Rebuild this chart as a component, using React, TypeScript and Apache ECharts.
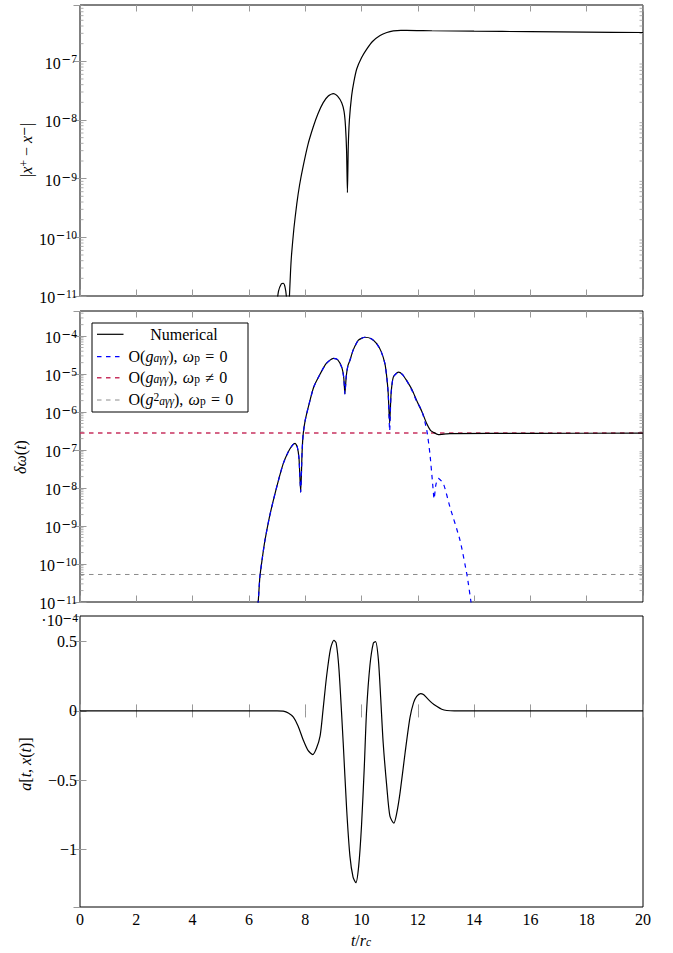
import React, { useEffect, useRef } from 'react';
import * as echarts from 'echarts';

const FONT = 'Liberation Serif, DejaVu Serif, serif';
const MINUS_FONT = 'DejaVu Serif, Liberation Serif, serif';
const FS = 16;
const FS_SMALL = 11.5;

// ---------- Panel 1: |x+ - x-| (log scale) ----------
const diffTimes = [
  6.95, 7.05, 7.15, 7.22, 7.28, 7.33, 7.36, 7.40, 7.44, 7.48, 7.52, 7.60, 7.70, 7.80, 7.93, 8.10,
  8.29, 8.45, 8.64, 8.82, 9.00, 9.15, 9.30, 9.38, 9.43, 9.47, 9.50, 9.53, 9.57, 9.65, 9.73, 9.83,
  10.0, 10.18, 10.4, 10.66, 10.9, 11.13, 11.4, 11.6, 12.5, 14, 16, 18, 20,
];
const diffValues = [
  5e-12, 1.2e-11, 1.6e-11, 1.65e-11, 1.45e-11, 1.0e-11, 5e-12, 5e-12, 1.0e-11, 2.67e-11, 5.44e-11,
  1.44e-10, 3.69e-10, 7.8e-10, 1.65e-9, 3.85e-9, 7.74e-9, 1.27e-8, 1.98e-8, 2.56e-8, 2.82e-8, 2.55e-8,
  1.95e-8, 1.4e-8, 8e-9, 3e-9, 5.8e-10, 3.5e-9, 1.0e-8, 2.6e-8, 4.5e-8, 7.4e-8, 1.15e-7, 1.6e-7,
  2.2e-7, 2.75e-7, 3.1e-7, 3.3e-7, 3.38e-7, 3.38e-7, 3.32e-7, 3.26e-7, 3.2e-7, 3.15e-7, 3.1e-7,
];

// ---------- Panel 2: delta omega (log scale) ----------
const numericalTimes = [
  6.30, 6.33, 6.39, 6.48, 6.57, 6.72, 6.87, 7.05, 7.22, 7.40, 7.55, 7.64, 7.72, 7.78, 7.84, 7.89,
  7.93, 8.00, 8.11, 8.30, 8.53, 8.75, 9.00, 9.15, 9.30, 9.37, 9.41, 9.46, 9.52, 9.59, 9.70, 9.89,
  10.12, 10.35, 10.54, 10.70, 10.83, 10.90, 10.95, 11.0, 11.05, 11.13, 11.31, 11.45, 11.6, 11.8,
  11.96, 12.14, 12.32, 12.45, 12.55, 12.73, 13.0, 13.14, 16, 20,
];
const numericalValues = [
  8e-12, 1e-11, 4.6e-11, 1.5e-10, 4.2e-10, 1.6e-9, 4.8e-9, 1.6e-8, 4.4e-8, 9e-8, 1.35e-7, 1.5e-7,
  1.2e-7, 6e-8, 7.8e-9, 9e-8, 2.7e-7, 6e-7, 1.35e-6, 4.5e-6, 1.0e-5, 1.9e-5, 2.6e-5, 2.4e-5, 1.5e-5,
  8e-6, 3.0e-6, 9e-6, 1.7e-5, 2.3e-5, 4.2e-5, 7.8e-5, 9.3e-5, 8.5e-5, 6.3e-5, 3.9e-5, 1.9e-5, 8e-6,
  3.0e-6, 5e-7, 3e-6, 8.3e-6, 1.12e-5, 9.8e-6, 6.8e-6, 3.8e-6, 2.0e-6, 1.05e-6, 4.9e-7, 3.3e-7,
  2.95e-7, 2.55e-7, 2.65e-7, 2.7e-7, 2.75e-7, 2.78e-7,
];
const firstOrderTimes = [
  6.20, 6.30, 6.33, 6.39, 6.48, 6.57, 6.72, 6.87, 7.05, 7.22, 7.40, 7.55, 7.64, 7.72, 7.78, 7.84,
  7.89, 7.93, 8.00, 8.11, 8.30, 8.53, 8.75, 9.00, 9.15, 9.30, 9.37, 9.41, 9.46, 9.52, 9.59, 9.70,
  9.89, 10.12, 10.35, 10.54, 10.70, 10.83, 10.90, 10.95, 11.0, 11.05, 11.13, 11.31, 11.45, 11.6,
  11.8, 11.96, 12.14, 12.32, 12.43, 12.52, 12.58, 12.64, 12.73, 12.91, 13.14, 13.5, 13.75, 13.89, 13.95,
];
const firstOrderValues = [
  5e-12, 8e-12, 1e-11, 4.6e-11, 1.5e-10, 4.2e-10, 1.6e-9, 4.8e-9, 1.6e-8, 4.4e-8, 9e-8, 1.35e-7,
  1.5e-7, 1.2e-7, 6e-8, 7.8e-9, 9e-8, 2.7e-7, 6e-7, 1.35e-6, 4.5e-6, 1.0e-5, 1.9e-5, 2.6e-5, 2.4e-5,
  1.5e-5, 8e-6, 3.0e-6, 9e-6, 1.7e-5, 2.3e-5, 4.2e-5, 7.8e-5, 9.3e-5, 8.5e-5, 6.3e-5, 3.9e-5,
  1.9e-5, 8e-6, 3.0e-6, 3.2e-7, 3e-6, 8.3e-6, 1.12e-5, 9.8e-6, 6.8e-6, 3.6e-6, 1.9e-6, 1.1e-6,
  3.3e-7, 8e-8, 1.5e-8, 5.2e-9, 1.2e-8, 1.8e-8, 1.3e-8, 3.2e-9, 4.2e-10, 5e-11, 1e-11, 5e-12,
];
const plasmaLevel = 2.8e-7; // O(g), omega_p != 0
const secondOrderLevel = 5.3e-11; // O(g^2), omega_p = 0

// ---------- Panel 3: a[t, x(t)] in units of 1e-4 ----------
const fieldTimes = [
  0, 7.0, 7.22, 7.4, 7.58, 7.75, 7.93, 8.1, 8.27, 8.4, 8.53, 8.63, 8.76, 8.9, 9.02, 9.1, 9.2, 9.35,
  9.47, 9.59, 9.7, 9.8, 9.9, 10.0, 10.1, 10.18, 10.3, 10.42, 10.5, 10.6, 10.68, 10.77, 10.9, 11.01,
  11.15, 11.25, 11.37, 11.55, 11.72, 11.85, 11.96, 12.1, 12.2, 12.32, 12.5, 12.67, 12.85, 13.03, 13.3, 20,
];
const fieldValues = [
  0, 0, -0.002, -0.015, -0.045, -0.11, -0.21, -0.285, -0.315, -0.27, -0.18, 0.0, 0.25, 0.45, 0.51,
  0.49, 0.3, -0.23, -0.7, -1.05, -1.2, -1.24, -1.12, -0.83, -0.4, 0.0, 0.33, 0.49, 0.5, 0.37, 0.1,
  -0.23, -0.55, -0.76, -0.81, -0.74, -0.59, -0.3, -0.05, 0.06, 0.105, 0.125, 0.118, 0.094, 0.058,
  0.033, 0.012, 0.003, 0, 0,
];

const panel1Range = [-11, -6.04];
const panel2Range = [-11, -3.34];
const panel3Range = [-1.415, 0.685];

const GRID_LEFT = 80;
const GRID_WIDTH = 563;
const GRID_TOPS = [5, 311, 616];
const GRID_HEIGHT = 291;

const TICK_COLOR = '#999';

const zipLog = (ts: number[], vs: number[]) => ts.map((t, i) => [t, Math.log10(vs[i])]);
const zip = (ts: number[], vs: number[]) => ts.map((t, i) => [t, vs[i]]);

const minorTickPositions = (range: number[]) => {
  const out: number[][] = [];
  for (let n = -13; n <= -2; n++) {
    for (let k = 2; k <= 9; k++) {
      const v = n + Math.log10(k);
      if (v > range[0] && v < range[1]) out.push([0, v]);
    }
  }
  return out;
};

const minorTickSeries = (idx: number, range: number[]) => ({
  type: 'custom',
  xAxisIndex: idx,
  yAxisIndex: idx,
  silent: true,
  data: minorTickPositions(range),
  renderItem: (params: any, api: any) => {
    const v = api.value(1);
    const pl = api.coord([0, v]);
    const pr = api.coord([20, v]);
    return {
      type: 'group',
      children: [
        { type: 'line', shape: { x1: pl[0], y1: pl[1], x2: pl[0] + 3.5, y2: pl[1] }, style: { stroke: TICK_COLOR, lineWidth: 0.8 } },
        { type: 'line', shape: { x1: pr[0] - 3.5, y1: pr[1], x2: pr[0], y2: pr[1] }, style: { stroke: TICK_COLOR, lineWidth: 0.8 } },
      ],
    };
  },
});

const logLabelRich = {
  b: { fontSize: FS, lineHeight: FS, fontFamily: FONT, color: '#000', padding: [3.6, 0, 0, 0] },
  m: { fontSize: FS_SMALL, lineHeight: FS_SMALL, fontFamily: MINUS_FONT, color: '#000', verticalAlign: 'top', padding: [0, 0, 0, 1] },
  s: { fontSize: FS_SMALL, lineHeight: FS_SMALL, fontFamily: FONT, color: '#000', verticalAlign: 'top' },
};

const textRich = {
  r: { fontSize: FS, lineHeight: FS, fontFamily: FONT, fill: '#000', padding: [3.6, 0, 2.2, 0] },
  i: { fontSize: FS, lineHeight: FS, fontFamily: FONT, fontStyle: 'italic', fill: '#000', padding: [3.6, 0, 2.2, 0] },
  sup: { fontSize: FS_SMALL, lineHeight: FS_SMALL, fontFamily: FONT, fill: '#000', verticalAlign: 'top' },
  supm: { fontSize: FS_SMALL, lineHeight: FS_SMALL, fontFamily: MINUS_FONT, fill: '#000', verticalAlign: 'top' },
  sub: { fontSize: FS_SMALL, lineHeight: FS_SMALL, fontFamily: FONT, fontStyle: 'italic', fill: '#000', verticalAlign: 'bottom' },
  subr: { fontSize: FS_SMALL, lineHeight: FS_SMALL, fontFamily: FONT, fill: '#000', verticalAlign: 'bottom' },
};

const richText = (x: number, y: number, text: string, opts: any = {}) => ({
  type: 'text',
  x,
  y,
  rotation: opts.rotation || 0,
  z: 20,
  style: {
    text,
    rich: textRich,
    fontSize: FS,
    fontFamily: FONT,
    fill: '#000',
    align: opts.align || 'center',
    verticalAlign: 'middle',
  },
});

const logSeriesBase = {
  type: 'line',
  showSymbol: false,
  symbol: 'none',
  clip: true,
  smooth: 0.2,
};

export default function App() {
  const ref = useRef<HTMLDivElement>(null);
  useEffect(() => {
    document.body.style.margin = '0';
    if (!ref.current) return;
    const chart = echarts.init(ref.current, null, { renderer: 'svg' });

    const grids = GRID_TOPS.map((top) => ({
      left: GRID_LEFT,
      top,
      width: GRID_WIDTH,
      height: GRID_HEIGHT,
      show: true,
      borderColor: '#000',
      borderWidth: 1,
      backgroundColor: 'transparent',
      containLabel: false,
      outerBoundsMode: 'none',
    }));

    const xAxisBase = (gridIndex: number, position: string, showLabel: boolean) => ({
      type: 'value',
      gridIndex,
      position,
      min: 0,
      max: 20,
      interval: 2,
      axisLine: { show: false },
      axisTick: { show: true, inside: true, length: 6.5, lineStyle: { color: TICK_COLOR, width: 1 } },
      splitLine: { show: false },
      axisLabel: {
        show: showLabel,
        fontFamily: FONT,
        fontSize: FS,
        color: '#000',
        margin: 4,
      },
    });

    const logYAxis = (gridIndex: number, position: string, range: number[], showLabel: boolean) => ({
      type: 'value',
      gridIndex,
      position,
      min: range[0],
      max: range[1],
      interval: 1,
      axisLine: { show: false },
      axisTick: { show: true, inside: true, length: 6.5, lineStyle: { color: TICK_COLOR, width: 1 } },
      splitLine: { show: false },
      axisLabel: {
        show: showLabel,
        showMaxLabel: false,
        margin: 3,
        formatter: (v: number) => `{b|10}{m|−}{s|${Math.abs(Math.round(v))}}`,
        rich: logLabelRich,
      },
    });

    const linYAxis = (gridIndex: number, position: string, showLabel: boolean) => ({
      type: 'value',
      gridIndex,
      position,
      min: panel3Range[0],
      max: panel3Range[1],
      splitNumber: 4,
      axisLine: { show: false },
      axisTick: { show: true, inside: true, length: 6.5, lineStyle: { color: TICK_COLOR, width: 1 } },
      splitLine: { show: false },
      axisLabel: {
        show: showLabel,
        showMinLabel: false,
        showMaxLabel: false,
        margin: 3,
        fontFamily: FONT,
        fontSize: FS,
        color: '#000',
        formatter: (v: number) => (v < 0 ? '−' + String(Math.abs(v)) : String(v)),
      },
    });

    const legendRows = [
      { y: 334.3, color: '#000', dash: null, width: 1.2 },
      { y: 356.7, color: '#0000ff', dash: [4.5, 4.5], width: 1.2 },
      { y: 377.8, color: '#c8325f', dash: [4.5, 4.5], width: 1.5 },
      { y: 400, color: '#7f7f7f', dash: [4.5, 4.5], width: 0.9 },
    ];

    const SP = '\u2004';
    const graphics: any[] = [
      { type: 'rect', z: 15, shape: { x: 92, y: 323, width: 156, height: 89 }, style: { fill: '#fff', stroke: '#000', lineWidth: 1 } },
      ...legendRows.map((r) => ({
        type: 'line',
        z: 16,
        shape: { x1: 97, y1: r.y, x2: 123.5, y2: r.y },
        style: { stroke: r.color, lineWidth: r.width, lineDash: r.dash || undefined },
      })),
      richText(184, 333.5, '{r|Numerical}'),
      richText(128.5, 355.5, `{r|O(}{i|g}{sub|aγγ}{r|),${SP}}{i|ω}{subr|p}{r|${SP}=${SP}0}`, { align: 'left' }),
      richText(128.5, 376.5, `{r|O(}{i|g}{sub|aγγ}{r|),${SP}}{i|ω}{subr|p}{r|${SP}≠${SP}0}`, { align: 'left' }),
      richText(128.5, 399, `{r|O(}{i|g}{sup|2}{sub|aγγ}{r|),${SP}}{i|ω}{subr|p}{r|${SP}=${SP}0}`, { align: 'left' }),
      // axis names
      richText(26, 150, '{r||}{i|x}{sup|+}{r| − }{i|x}{supm|−}{r||}', { rotation: Math.PI / 2 }),
      richText(20, 457, '{i|δω}{r|(}{i|t}{r|)}', { rotation: Math.PI / 2 }),
      richText(25, 764, '{i|a}{r|[}{i|t}{r|, }{i|x}{r|(}{i|t}{r|)]}', { rotation: Math.PI / 2 }),
      richText(361, 940, '{i|t}{r|/}{i|r}{sub|c}'),
      richText(78, 619.5, '{r|·10}{supm|−}{sup|4}', { align: 'right' }),
    ];

    const option: any = {
      animation: false,
      backgroundColor: '#fff',
      grid: grids,
      xAxis: [
        xAxisBase(0, 'bottom', false),
        xAxisBase(1, 'bottom', false),
        xAxisBase(2, 'bottom', true),
        xAxisBase(0, 'top', false),
        xAxisBase(1, 'top', false),
        xAxisBase(2, 'top', false),
      ],
      yAxis: [
        logYAxis(0, 'left', panel1Range, true),
        logYAxis(1, 'left', panel2Range, true),
        linYAxis(2, 'left', true),
        logYAxis(0, 'right', panel1Range, false),
        logYAxis(1, 'right', panel2Range, false),
        linYAxis(2, 'right', false),
      ],
      series: [
        {
          ...logSeriesBase,
          name: '|x+ - x-|',
          xAxisIndex: 0,
          yAxisIndex: 0,
          data: zipLog(diffTimes, diffValues),
          lineStyle: { color: '#000', width: 1.2 },
          z: 3,
        },
        minorTickSeries(0, panel1Range),
        {
          ...logSeriesBase,
          name: 'Numerical',
          xAxisIndex: 1,
          yAxisIndex: 1,
          data: zipLog(numericalTimes, numericalValues),
          lineStyle: { color: '#000', width: 1.2 },
          z: 3,
        },
        {
          ...logSeriesBase,
          name: 'O(g), wp = 0',
          xAxisIndex: 1,
          yAxisIndex: 1,
          data: zipLog(firstOrderTimes, firstOrderValues),
          lineStyle: { color: '#0000ff', width: 1.2, type: [4.5, 4.5] },
          z: 4,
        },
        {
          type: 'line',
          name: 'O(g), wp != 0',
          xAxisIndex: 1,
          yAxisIndex: 1,
          data: zipLog([0, 20], [plasmaLevel, plasmaLevel]),
          showSymbol: false,
          symbol: 'none',
          lineStyle: { color: '#c8325f', width: 1.5, type: [4.5, 4.5] },
          z: 2,
        },
        {
          type: 'line',
          name: 'O(g^2), wp = 0',
          xAxisIndex: 1,
          yAxisIndex: 1,
          data: zipLog([0, 20], [secondOrderLevel, secondOrderLevel]),
          showSymbol: false,
          symbol: 'none',
          lineStyle: { color: '#7f7f7f', width: 0.9, type: [4.5, 4.5] },
          z: 2,
        },
        minorTickSeries(1, panel2Range),
        {
          type: 'line',
          name: 'a[t,x(t)]',
          xAxisIndex: 2,
          yAxisIndex: 2,
          data: zip(fieldTimes, fieldValues),
          showSymbol: false,
          symbol: 'none',
          smooth: 0.25,
          clip: true,
          lineStyle: { color: '#000', width: 1.2 },
          z: 3,
        },
      ],
      graphic: graphics,
    };

    chart.setOption(option);
    return () => chart.dispose();
  }, []);

  return <div ref={ref} style={{ width: 673, height: 953 }} />;
}
